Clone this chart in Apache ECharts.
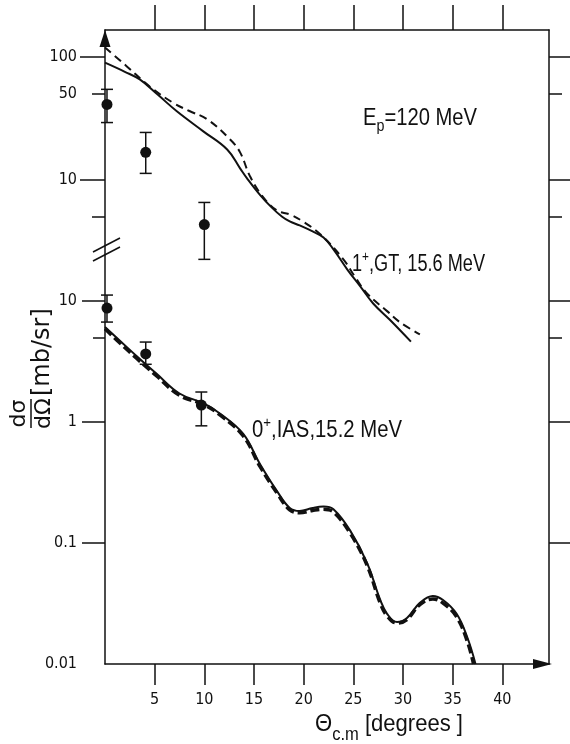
<!DOCTYPE html>
<html>
<head>
<meta charset="utf-8">
<script src="https://cdn.jsdelivr.net/npm/echarts@6.0.0/dist/echarts.min.js"></script>
<style>
  html, body { margin: 0; padding: 0; background: #fff; }
  #main { width: 570px; height: 744px; }
</style>
</head>
<body>
<div id="main"></div>
<script>
var NARROW = '"DejaVu Sans Condensed", "Liberation Sans", sans-serif';
var SANS = '"Liberation Sans", Arial, sans-serif';
var DEJA = '"DejaVu Sans", sans-serif';
var INK = '#111';

// theta c.m. axis
var xTicks = [5, 10, 15, 20, 25, 30, 35, 40];

// left / right tick marks, upper block (1+) and lower block (0+)
var upperLongTicks = [100, 10];
var upperShortTicks = [50, 5];
var upperLabels = [100, 50, 10];
var lowerLongTicks = [10, 1, 0.1];
var lowerShortTicks = [5];
var lowerLabels = [10, 1, 0.1, 0.01];

// 1+, GT, 15.6 MeV  [theta, mb/sr]
var gtSolid = [
  [0, 89], [2, 75], [3.5, 65], [5.3, 49], [7.2, 36], [9.9, 24.6], [12.3, 17.5],
  [13.6, 12.3], [14.3, 10.2], [15.6, 7.5], [16.8, 5.9], [17.8, 5.0], [18.6, 4.56],
  [19.6, 4.23], [20.9, 3.78], [22.0, 3.37], [23.0, 2.7], [24.4, 1.85], [25.7, 1.35],
  [27.0, 0.98], [28.7, 0.72], [30.8, 0.48]
];
var gtDashed = [
  [0, 118], [2.2, 83], [4.5, 57], [6.85, 42], [8.5, 36], [10.3, 30.8], [12.6, 21.1],
  [13.6, 16.6], [14.6, 10.6], [15.8, 7.4], [17.3, 5.6], [18.6, 5.19], [19.9, 4.56],
  [21.7, 3.57], [24.0, 2.24], [25.2, 1.6], [26.4, 1.18], [28.4, 0.85], [29.7, 0.69],
  [31.7, 0.55]
];
var gtPoints = [[0.2, 40.7], [4.1, 16.6], [10.0, 4.3]];
var gtErrors = [[29, 54], [11.2, 24.1], [2.24, 6.5]];

// 0+, IAS, 15.2 MeV  [theta, mb/sr]
var iasSolid = [
  [0, 6.1], [1.5, 4.7], [3.2, 3.5], [5.2, 2.5], [7.5, 1.72], [9.9, 1.43],
  [11.6, 1.17], [13.9, 0.8], [15.6, 0.45], [17.3, 0.27], [18.6, 0.195],
  [19.6, 0.184], [20.9, 0.195], [22.0, 0.2], [23.0, 0.19], [24.7, 0.126],
  [26.4, 0.068], [27.7, 0.034], [28.4, 0.026], [29.4, 0.0222], [30.4, 0.024],
  [31.7, 0.032], [33.0, 0.0365], [34.0, 0.034], [35.4, 0.026], [36.5, 0.0164],
  [37.3, 0.01]
];
var iasDashed = [
  [0, 5.9], [1.5, 4.5], [3.2, 3.35], [5.2, 2.4], [7.5, 1.66], [9.9, 1.4],
  [11.6, 1.14], [13.9, 0.77], [15.6, 0.43], [17.3, 0.26], [18.6, 0.188],
  [19.6, 0.178], [20.9, 0.186], [22.0, 0.19], [23.0, 0.18], [24.7, 0.12],
  [26.4, 0.065], [27.7, 0.032], [28.4, 0.025], [29.4, 0.0218], [30.4, 0.0233],
  [31.7, 0.031], [33.0, 0.0345], [34.0, 0.032], [35.4, 0.0245], [36.5, 0.0152],
  [37.1, 0.01]
];
var iasPoints = [[0.2, 8.75], [4.1, 3.65], [9.7, 1.38]];
var iasErrors = [[6.7, 11.2], [3.0, 4.58], [0.93, 1.77]];

var UPPER = { min: 0.00115, max: 164 };
var LOWER = { min: 0.01, max: 1738 };

var myChart = echarts.init(document.getElementById('main'));

function yAx(range, pos, tickVals, tickLen, extra) {
  var ax = {
    type: 'log', logBase: 10, position: pos, min: range.min, max: range.max,
    splitLine: { show: false },
    axisLine: { show: false },
    axisTick: { show: true, inside: false, length: tickLen, customValues: tickVals,
      lineStyle: { color: INK, width: 1.5 } },
    axisLabel: { show: false }
  };
  return Object.assign(ax, extra || {});
}

function labelCfg(vals) {
  return { show: true, customValues: vals, margin: 28, color: INK,
    fontFamily: NARROW, fontSize: 16, formatter: function (v) { return String(v); } };
}

function errBars(params, api) {
  var x = api.value(0);
  var lo = api.coord([x, api.value(1)]);
  var hi = api.coord([x, api.value(2)]);
  var st = { stroke: INK, lineWidth: 1.5 };
  return { type: 'group', children: [
    { type: 'line', shape: { x1: lo[0], y1: lo[1], x2: hi[0], y2: hi[1] }, style: st },
    { type: 'line', shape: { x1: lo[0] - 6, y1: lo[1], x2: lo[0] + 6, y2: lo[1] }, style: st },
    { type: 'line', shape: { x1: hi[0] - 6, y1: hi[1], x2: hi[0] + 6, y2: hi[1] }, style: st }
  ] };
}

function withErr(pts, errs) {
  return pts.map(function (p, i) { return [p[0], errs[i][0], errs[i][1]]; });
}

// text with sub/superscripts, squeezed to the width it has in the figure
var ctx = document.createElement('canvas').getContext('2d');
function textRun(parts, x, y, width, family, extra) {
  var cx = 0, children = [];
  parts.forEach(function (p) {
    var font = p[1] + 'px ' + family;
    children.push({ type: 'text', x: cx, y: p[2] || 0,
      style: { text: p[0], font: font, fill: INK, textAlign: 'left', textVerticalAlign: 'middle' } });
    ctx.font = font;
    cx += ctx.measureText(p[0]).width;
  });
  return Object.assign({ type: 'group', x: x, y: y, z: 100,
    scaleX: width ? width / cx : 1, children: children }, extra || {});
}

var option = {
  animation: false,
  backgroundColor: '#fff',
  grid: { left: 105, right: 21, top: 30, bottom: 80 },
  xAxis: [
    {
      type: 'value', position: 'bottom', min: 0, max: 44.7,
      splitLine: { show: false },
      axisLine: { show: true, symbol: ['none', 'triangle'], symbolSize: [10, 19], symbolOffset: [0, -6.5],
        lineStyle: { color: INK, width: 1.5 } },
      axisTick: { show: true, inside: false, length: 21, customValues: xTicks, lineStyle: { color: INK, width: 1.5 } },
      axisLabel: { show: true, customValues: xTicks, margin: 28, color: INK, fontFamily: NARROW, fontSize: 16 }
    },
    {
      type: 'value', position: 'top', min: 0, max: 44.7,
      splitLine: { show: false },
      axisLine: { show: true, lineStyle: { color: INK, width: 1.5 } },
      axisTick: { show: true, inside: false, length: 25, customValues: xTicks, lineStyle: { color: INK, width: 1.5 } },
      axisLabel: { show: false }
    }
  ],
  yAxis: [
    yAx(UPPER, 'left', upperLongTicks, 25, {
      axisLine: { show: true, symbol: ['none', 'triangle'], symbolSize: [11, 17], symbolOffset: [0, -8.5],
        lineStyle: { color: INK, width: 1.5 } },
      axisLabel: labelCfg(upperLabels)
    }),
    yAx(UPPER, 'left', upperShortTicks, 13),
    yAx(LOWER, 'left', lowerLongTicks, 23, { axisLabel: labelCfg(lowerLabels) }),
    yAx(LOWER, 'left', lowerShortTicks, 12),
    yAx(UPPER, 'right', upperLongTicks, 22, {
      axisLine: { show: true, lineStyle: { color: INK, width: 1.5 } }
    }),
    yAx(UPPER, 'right', upperShortTicks, 13),
    yAx(LOWER, 'right', lowerLongTicks, 22),
    yAx(LOWER, 'right', lowerShortTicks, 13)
  ],
  series: [
    { type: 'line', name: 'GT calc', yAxisIndex: 0, data: gtSolid, smooth: 0.4, showSymbol: false,
      lineStyle: { color: INK, width: 2 } },
    { type: 'line', name: 'GT calc 2', yAxisIndex: 0, data: gtDashed, smooth: 0.4, showSymbol: false,
      lineStyle: { color: INK, width: 2, type: [8, 5] } },
    { type: 'custom', yAxisIndex: 0, data: withErr(gtPoints, gtErrors), renderItem: errBars,
      encode: { x: 0, y: [1, 2] }, z: 5 },
    { type: 'scatter', yAxisIndex: 0, data: gtPoints, symbolSize: 11, itemStyle: { color: INK, opacity: 1 }, z: 6 },
    { type: 'line', name: 'IAS calc 2', yAxisIndex: 2, data: iasDashed, smooth: 0.4, showSymbol: false,
      lineStyle: { color: INK, width: 3.5, type: [9, 4] } },
    { type: 'line', name: 'IAS calc', yAxisIndex: 2, data: iasSolid, smooth: 0.4, showSymbol: false,
      lineStyle: { color: INK, width: 2 } },
    { type: 'custom', yAxisIndex: 2, data: withErr(iasPoints, iasErrors), renderItem: errBars,
      encode: { x: 0, y: [1, 2] }, z: 5 },
    { type: 'scatter', yAxisIndex: 2, data: iasPoints, symbolSize: 11, itemStyle: { color: INK, opacity: 1 }, z: 6 }
  ],
  graphic: [
    // axis break
    { type: 'line', shape: { x1: 93, y1: 252, x2: 120, y2: 238 }, style: { stroke: INK, lineWidth: 1.5 } },
    { type: 'line', shape: { x1: 93, y1: 261, x2: 120, y2: 247 }, style: { stroke: INK, lineWidth: 1.5 } },
    // E_p = 120 MeV
    textRun([['E', 24], ['p', 17, 8], ['=120 MeV', 24]], 363, 118, 114, SANS),
    // state labels
    textRun([['1', 23], ['+', 15, -8], [',GT, 15.6 MeV', 23]], 352, 265, 133, SANS),
    textRun([['0', 23], ['+', 15, -8], [',IAS,15.2 MeV', 23]], 252, 431, 150, SANS),
    // x title
    textRun([['\u0398', 24], ['c.m', 18, 11], [' [degrees ]', 24]], 315, 724, 148, SANS),
    // y title, reads upward
    {
      type: 'group', x: 31, y: 428, rotation: Math.PI / 2, z: 100,
      children: [
        { type: 'text', x: 14.5, y: -12, style: { text: 'd\u03c3', font: '22px ' + DEJA, fill: INK, textAlign: 'center', textVerticalAlign: 'middle' } },
        { type: 'line', shape: { x1: 0, y1: 0, x2: 29, y2: 0 }, style: { stroke: INK, lineWidth: 1.5 } },
        { type: 'text', x: 14.5, y: 13, style: { text: 'd\u03a9', font: '22px ' + DEJA, fill: INK, textAlign: 'center', textVerticalAlign: 'middle' } },
        { type: 'text', x: 32, y: 12, style: { text: '[mb/sr]', font: '24px ' + DEJA, fill: INK, textAlign: 'left', textVerticalAlign: 'middle' } }
      ]
    }
  ]
};

myChart.setOption(option);
</script>
</body>
</html>
